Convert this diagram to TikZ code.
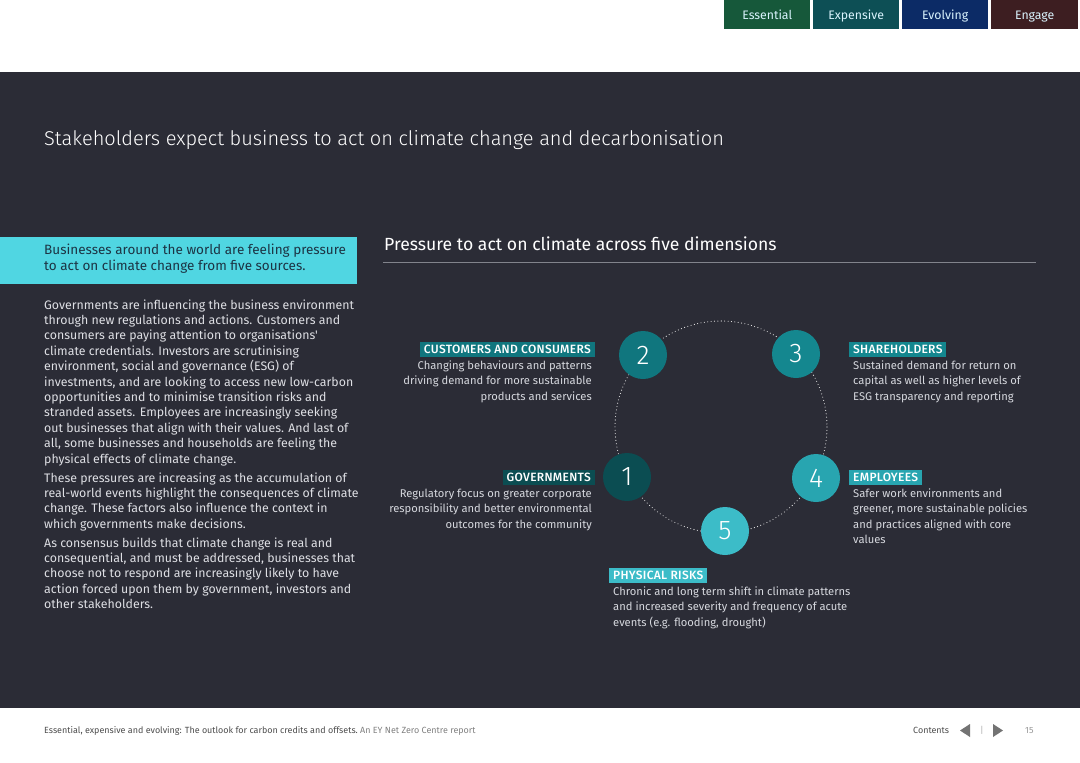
\documentclass[tikz,border=0pt]{standalone}
\usepackage{fontspec}
\setmainfont{Fira Sans}[UprightFont={* Light}, BoldFont={* Medium}]
\newfontfamily\regfont{Fira Sans}
\newfontfamily\tagfont{Fira Sans}[UprightFont={* Medium}, LetterSpace=2.5]
\definecolor{panel}{RGB}{43,44,54}
\definecolor{bodytext}{RGB}{222,223,228}
\definecolor{desctext}{RGB}{214,216,222}
\definecolor{cyanbox}{RGB}{80,214,226}
\definecolor{cyantext}{RGB}{28,52,68}
\definecolor{tabA}{RGB}{22,88,58}
\definecolor{tabB}{RGB}{13,79,85}
\definecolor{tabC}{RGB}{12,43,102}
\definecolor{tabD}{RGB}{61,30,33}
\definecolor{dimA}{RGB}{11,77,82}
\definecolor{dimB}{RGB}{16,118,126}
\definecolor{dimC}{RGB}{20,135,143}
\definecolor{dimD}{RGB}{40,165,176}
\definecolor{dimE}{RGB}{60,188,200}
\definecolor{rulegray}{RGB}{130,132,140}
\begin{document}
\begin{tikzpicture}[x=1pt,y=-1pt,
  tab/.style={minimum width=86, minimum height=29, inner sep=0, anchor=north west,
    text height=9.5, text depth=0,
    text=white!85!cyan, font=\regfont\fontsize{12.3}{14}\selectfont},
  body/.style={anchor=north west, inner sep=0, align=left, text=bodytext,
    font=\regfont\fontsize{12.35}{15.4}\selectfont},
  descR/.style={anchor=north east, inner sep=0, align=right, text=desctext,
    font=\regfont\fontsize{11.2}{15.5}\selectfont},
  descL/.style={anchor=north west, inner sep=0, align=left, text=desctext,
    font=\regfont\fontsize{11.2}{15.5}\selectfont},
  tag/.style={minimum height=15, inner xsep=4, inner ysep=0, text=white,
    text height=8.6, text depth=0.6,
    font=\tagfont\fontsize{12}{12}\selectfont},
  dim/.style={circle, minimum size=48, inner sep=0, text=white,
    font=\fontsize{27}{30}\selectfont},
  ring/.style={draw=white!85!gray, line width=1.1pt, line cap=round,
    dash pattern=on 0pt off 3.4pt},
  foot/.style={inner sep=0, anchor=base west, font=\regfont\fontsize{8.95}{10}\selectfont}]
\useasboundingbox (0,0) rectangle (1080,763);
\fill[white] (0,0) rectangle (1080,763);

% section tabs
\node[tab, fill=tabA] (t1) at (724,0) {Essential};
\node[tab, fill=tabB] (t2) at (813,0) {Expensive};
\node[tab, fill=tabC] (t3) at (902,0) {Evolving};
\node[tab, fill=tabD, minimum width=87] (t4) at (991,0) {Engage};

% dark page panel
\fill[panel] (0,72) rectangle (1080,708);

% page title
\node[inner sep=0, anchor=base west, text=white, font=\fontsize{20}{24}\selectfont]
  (title) at (44,145) {Stakeholders expect business to act on climate change and decarbonisation};

% highlighted intro
\fill[cyanbox] (0,237) rectangle (357,284);
\node[anchor=north west, inner sep=0, align=left, text=cyantext,
  font=\regfont\fontsize{13.5}{16.8}\selectfont] (intro) at (44,242.2)
  {\strut Businesses around the world are feeling pressure\\to act on climate change from five sources.};

% body copy
\node[body] (p1) at (44,298.2) {\strut Governments are influencing the business environment\\
through new regulations and actions. Customers and\\
consumers are paying attention to organisations'\\
climate credentials. Investors are scrutinising\\
environment, social and governance (ESG) of\\
investments, and are looking to access new low-carbon\\
opportunities and to minimise transition risks and\\
stranded assets. Employees are increasingly seeking\\
out businesses that align with their values. And last of\\
all, some businesses and households are feeling the\\
physical effects of climate change.};
\node[body] (p2) at (44,471.2) {\strut These pressures are increasing as the accumulation of\\
real-world events highlight the consequences of climate\\
change. These factors also influence the context in\\
which governments make decisions.};
\node[body] (p3) at (44,536.2) {\strut As consensus builds that climate change is real and\\
consequential, and must be addressed, businesses that\\
choose not to respond are increasingly likely to have\\
action forced upon them by government, investors and\\
other stakeholders.};

% diagram heading
\node[inner sep=0, anchor=base west, text=white, font=\regfont\fontsize{17.6}{20}\selectfont]
  (head) at (384,250) {Pressure to act on climate across five dimensions};
\draw[rulegray, line width=1pt] (383,262) -- (1036,262);

% dotted ring and the five dimensions
\coordinate (ctr) at (721,427);
\draw[ring] (ctr) circle[radius=106];
\node[dim, fill=dimB] (d2) at (643,355) {2};
\node[dim, fill=dimC] (d3) at (796,354) {3};
\node[dim, fill=dimA] (d1) at (627,477) {1};
\node[dim, fill=dimD] (d4) at (816,478) {4};
\node[dim, fill=dimE] (d5) at (725,531) {5};

% labels
\node[tag, fill=dimB, anchor=east] (g2) at (595,349.5) {CUSTOMERS AND CONSUMERS};
\node[descR] (x2) at (592,358.2) {\strut Changing behaviours and patterns\\driving demand for more sustainable\\products and services};

\node[tag, fill=dimC, anchor=west] (g3) at (849,349.5) {SHAREHOLDERS};
\node[descL] (x3) at (853,358.2) {\strut Sustained demand for return on\\capital as well as higher levels of\\ESG transparency and reporting};

\node[tag, fill=dimA, anchor=east] (g1) at (595,477.5) {GOVERNMENTS};
\node[descR] (x1) at (592,486.2) {\strut Regulatory focus on greater corporate\\responsibility and better environmental\\outcomes for the community};

\node[tag, fill=dimD, anchor=west] (g4) at (849,477.5) {EMPLOYEES};
\node[descL] (x4) at (853,486.2) {\strut Safer work environments and\\greener, more sustainable policies\\and practices aligned with core\\values};

\node[tag, fill=dimE, anchor=west] (g5) at (609,575.5) {PHYSICAL RISKS};
\node[descL] (x5) at (613,584.2) {\strut Chronic and long term shift in climate patterns\\and increased severity and frequency of acute\\events (e.g. flooding, drought)};

% footer
\node[foot, text=black!70] (f1) at (44,733) {Essential, expensive and evolving: The outlook for carbon credits and offsets.\ \textcolor{black!50}{An EY Net Zero Centre report}};
\node[foot, text=black!70] (f2) at (913,733) {Contents};
\fill[black!55] (960,730.5) -- (970,724) -- (970,737) -- cycle;
\node[foot, text=black!30] (f3) at (980,733) {|};
\fill[black!55] (1003,730.5) -- (993,724) -- (993,737) -- cycle;
\node[foot, text=black!40] (f4) at (1025,733) {15};
\end{tikzpicture}
\end{document}
